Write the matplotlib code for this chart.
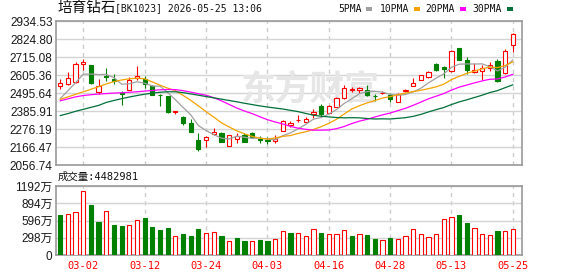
import matplotlib
matplotlib.use("Agg")
import matplotlib.pyplot as plt
from matplotlib.patches import Rectangle
import numpy as np

W, H = 578, 276

# trading days shown (MM-DD)
dates = [
    "02-25", "02-26", "02-27", "03-02", "03-03", "03-04", "03-05", "03-06", "03-09", "03-10",
    "03-11", "03-12", "03-13", "03-16", "03-17", "03-18", "03-19", "03-20", "03-23", "03-24",
    "03-25", "03-26", "03-27", "03-30", "03-31", "04-01", "04-02", "04-03", "04-07", "04-08",
    "04-09", "04-10", "04-13", "04-14", "04-15", "04-16", "04-17", "04-20", "04-21", "04-22",
    "04-23", "04-24", "04-27", "04-28", "04-29", "04-30", "05-06", "05-07", "05-08", "05-11",
    "05-12", "05-13", "05-14", "05-15", "05-18", "05-19", "05-20", "05-21", "05-22", "05-25",
]
shown_dates = ["03-02", "03-12", "03-24", "04-03", "04-16", "04-28", "05-13", "05-25"]

opens = [2543, 2550, 2563, 2672, 2668, 2502, 2603, 2583, 2497, 2518,
         2587, 2585, 2538, 2487, 2480, 2381, 2352, 2316, 2212, 2211,
         2246, 2256, 2174, 2219, 2240, 2256, 2215, 2211, 2203, 2266,
         2300, 2330, 2320, 2368, 2416, 2376, 2412, 2464, 2514, 2518,
         2514, 2481, 2495, 2484, 2440, 2508, 2541, 2576, 2597, 2672,
         2659, 2629, 2771, 2698, 2625, 2629, 2649, 2692, 2617, 2788]
highs = [2585, 2628, 2686, 2703, 2670, 2583, 2650, 2613, 2507, 2593,
         2664, 2601, 2544, 2490, 2482, 2388, 2356, 2340, 2256, 2235,
         2284, 2258, 2244, 2252, 2252, 2258, 2235, 2227, 2242, 2332,
         2328, 2362, 2352, 2402, 2428, 2426, 2476, 2546, 2534, 2532,
         2548, 2492, 2508, 2500, 2496, 2522, 2590, 2607, 2633, 2680,
         2661, 2760, 2773, 2715, 2678, 2666, 2686, 2704, 2764, 2863]
lows = [2520, 2544, 2559, 2640, 2551, 2492, 2568, 2555, 2427, 2514,
        2579, 2525, 2486, 2416, 2378, 2372, 2300, 2260, 2142, 2166,
        2242, 2197, 2174, 2191, 2197, 2221, 2195, 2187, 2195, 2266,
        2292, 2320, 2318, 2344, 2360, 2374, 2410, 2460, 2504, 2500,
        2480, 2448, 2490, 2440, 2440, 2502, 2540, 2574, 2586, 2629,
        2590, 2627, 2698, 2613, 2622, 2577, 2633, 2567, 2615, 2745]
closes = [2556, 2587, 2674, 2686, 2561, 2540, 2596, 2570, 2489, 2577,
          2599, 2550, 2486, 2484, 2380, 2386, 2312, 2262, 2154, 2231,
          2260, 2201, 2242, 2236, 2199, 2227, 2209, 2207, 2219, 2324,
          2312, 2334, 2340, 2380, 2372, 2420, 2466, 2528, 2524, 2526,
          2486, 2477, 2498, 2460, 2492, 2514, 2558, 2605, 2625, 2639,
          2645, 2754, 2700, 2635, 2637, 2651, 2668, 2569, 2752, 2857]

ma5 = [2464, 2512, 2561, 2612, 2613, 2610, 2611, 2591, 2551, 2554,
       2566, 2557, 2540, 2539, 2500, 2457, 2410, 2365, 2299, 2269,
       2244, 2222, 2217, 2234, 2228, 2221, 2223, 2216, 2212, 2237,
       2254, 2279, 2306, 2338, 2348, 2369, 2396, 2433, 2462, 2493,
       2506, 2508, 2503, 2489, 2483, 2488, 2504, 2526, 2559, 2588,
       2614, 2654, 2673, 2675, 2674, 2675, 2658, 2632, 2655, 2699]
ma10 = [2459, 2474, 2489, 2505, 2520, 2536, 2553, 2567, 2577, 2584,
        2588, 2584, 2565, 2545, 2527, 2512, 2483, 2453, 2419, 2384,
        2351, 2316, 2291, 2267, 2249, 2233, 2222, 2217, 2223, 2233,
        2238, 2251, 2261, 2275, 2292, 2312, 2337, 2369, 2400, 2420,
        2437, 2451, 2467, 2475, 2487, 2497, 2506, 2514, 2524, 2535,
        2551, 2579, 2599, 2617, 2631, 2645, 2656, 2652, 2665, 2687]
ma20 = [2450, 2462, 2474, 2482, 2487, 2491, 2494, 2497, 2499, 2502,
        2505, 2509, 2513, 2517, 2519, 2518, 2512, 2503, 2493, 2484,
        2469, 2450, 2428, 2406, 2388, 2372, 2353, 2335, 2321, 2309,
        2294, 2283, 2276, 2271, 2271, 2272, 2280, 2293, 2311, 2326,
        2337, 2351, 2364, 2375, 2390, 2404, 2422, 2442, 2462, 2478,
        2494, 2515, 2533, 2546, 2559, 2571, 2581, 2583, 2595, 2611]
ma30 = [2360, 2372, 2386, 2398, 2410, 2422, 2440, 2452, 2463, 2473,
        2482, 2490, 2497, 2502, 2505, 2505, 2500, 2492, 2484, 2476,
        2468, 2460, 2452, 2444, 2435, 2427, 2419, 2412, 2406, 2400,
        2392, 2384, 2373, 2362, 2356, 2352, 2348, 2346, 2347, 2346,
        2342, 2339, 2340, 2339, 2343, 2347, 2355, 2367, 2382, 2396,
        2409, 2427, 2443, 2456, 2470, 2484, 2500, 2512, 2530, 2547]

# volume in 万
volumes = [691, 714, 743, 1106, 870, 570, 760, 518, 501, 518,
           605, 639, 484, 432, 467, 328, 363, 328, 449, 380,
           397, 328, 242, 294, 242, 242, 259, 242, 276, 415,
           386, 380, 328, 449, 386, 363, 363, 432, 328, 363,
           346, 276, 259, 294, 276, 328, 449, 363, 311, 363,
           622, 657, 697, 559, 467, 363, 346, 415, 415, 448]
# u = close above previous close (red), d = below (green)
vol_dir = list("duuudduddu" "uddddudddu" "ududdudduu"
               "duuuduuudu" "dduduuuuuu" "uudduuuduu")

price_ticks = [2056.74, 2166.47, 2276.19, 2385.91, 2495.64, 2605.36, 2715.08, 2824.80, 2934.53]
vol_ticks = [0, 298, 596, 894, 1192]
vol_tick_labels = ["0", "298万", "596万", "894万", "1192万"]

ma_names = ["5PMA", "10PMA", "20PMA", "30PMA"]
ma_colors = ["#a0a0a0", "#f4a300", "#ff00ff", "#00703a"]

UP = "#ff0000"
DOWN = "#008000"
FRAME = "#9a9a9a"
GRID = "#d4d4d4"


def fx(x):
    return x / W


def fy(y):
    return 1 - y / H


fig = plt.figure(figsize=(W / 100, H / 100), dpi=100)
ax = fig.add_axes([fx(56), fy(165.3), (522 - 56) / W, (165.3 - 21.3) / H])
axv = fig.add_axes([fx(56), fy(255), (522 - 56) / W, (255 - 186) / H])

x = np.arange(len(dates))
o = np.array(opens, float)
c = np.array(closes, float)
is_up = c >= o
cols = np.where(is_up, UP, DOWN)

# candles
ax.vlines(x, lows, highs, colors=cols, linewidth=0.8, zorder=2)
body_bottom = np.minimum(o, c)
body_h = np.maximum(np.abs(c - o), 1.5)
ax.bar(x, body_h, bottom=body_bottom, width=0.56,
       facecolor=np.where(is_up, "white", DOWN), edgecolor=cols,
       linewidth=0.8, zorder=3)

for vals, col in zip([ma5, ma10, ma20, ma30], ma_colors):
    ax.plot(x, vals, color=col, linewidth=0.9, zorder=4)

# volume
vcols = [UP if d == "u" else DOWN for d in vol_dir]
vface = ["white" if d == "u" else DOWN for d in vol_dir]
axv.bar(x, volumes, width=0.56, facecolor=vface, edgecolor=vcols,
        linewidth=0.8, zorder=3)

tick_pos = [dates.index(d) for d in shown_dates]

for a in (ax, axv):
    a.set_xlim(-0.56, 60.2)
    a.set_xticks(tick_pos)
    a.set_axisbelow(True)
    a.xaxis.grid(True, color="#cccccc", linestyle=(0, (3, 3)), linewidth=1)
    a.yaxis.grid(True, color=GRID, linewidth=1)
    a.tick_params(length=0, pad=2.5, labelsize=8.5, labelcolor="#1a1a1a")
    for s in a.spines.values():
        s.set_color(FRAME)
        s.set_linewidth(1.2)

ax.set_ylim(price_ticks[0], price_ticks[-1])
ax.set_yticks(price_ticks)
ax.set_yticklabels(["%.2f" % p for p in price_ticks], family="Liberation Sans")
ax.set_xticklabels([])

axv.set_ylim(0, vol_ticks[-1])
axv.set_yticks(vol_ticks)
axv.set_yticklabels(vol_tick_labels, family=["Liberation Sans", "Noto Sans CJK SC"])
axv.set_xticklabels(shown_dates, family="DejaVu Sans Mono", fontsize=7.5, color=UP)
axv.tick_params(axis="x", pad=4.5)

# watermark
ax.text(0.545, 0.53, "东方财富", transform=ax.transAxes, ha="center", va="center",
        fontsize=25, color="#e6e6e6", family="Noto Sans CJK SC",
        fontweight="bold", zorder=1)

# header texts
fig.text(fx(57), fy(8), "培育钻石", family="Noto Sans CJK SC", fontsize=10.5,
         va="center", ha="left", color="#111111")
fig.text(fx(115), fy(8), "[BK1023] 2026-05-25 13:06", family="DejaVu Sans Mono",
         fontsize=7, va="center", ha="left", color="#111111")

legend_x = [338, 380, 425, 472]
square_x = [366, 414, 460, 507]
for name, col, tx, sx in zip(ma_names, ma_colors, legend_x, square_x):
    fig.text(fx(tx), fy(9), name, family="DejaVu Sans Mono", fontsize=7,
             va="center", ha="left", color="#111111")
    fig.add_artist(Rectangle((fx(sx), fy(10.8)), 6 / W, 3.5 / H,
                             transform=fig.transFigure, color=col, lw=0))

fig.text(fx(58), fy(177), "成交量:4482981", family=["DejaVu Sans Mono", "Noto Sans CJK SC"],
         fontsize=7.5, va="center", ha="left", color="#111111")

fig.savefig("out.png", dpi=100, facecolor="white")
